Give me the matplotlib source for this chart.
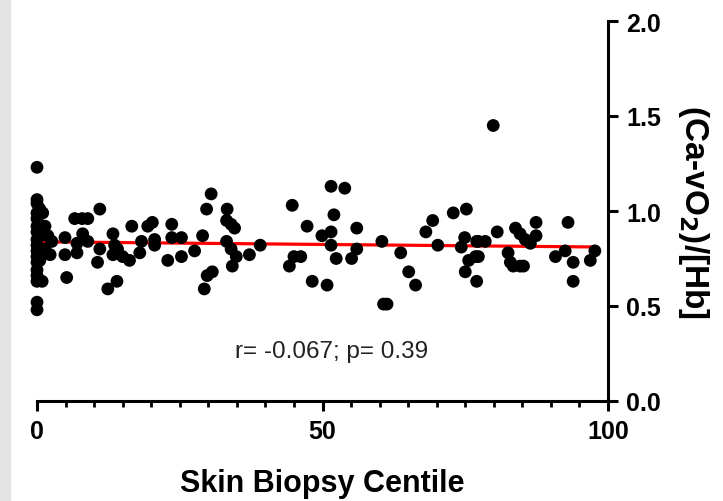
import matplotlib

matplotlib.use("Agg")
import matplotlib.pyplot as plt
import numpy as np
from matplotlib.ticker import FormatStrFormatter, MultipleLocator

# skin biopsy centile vs (Ca-vO2)/[Hb]
centile = [
    0, 0, 0, 0, 0, 0, 0, 0, 0, 0, 0, 0, 0, 0, 0, 0, 0,
    0.5, 0.9, 1.0, 0.5, 0.5, 1.4, 1.9, 2.6, 1.4, 2.3,
    4.9, 4.9, 5.2, 6.6, 7.9, 8.9, 11.0, 8.0, 7.0, 7.0, 8.9, 11.0, 10.6,
    13.3, 13.6, 13.3, 14.1, 15.0, 16.2, 16.6, 18.3, 18.0, 19.4, 20.2,
    20.6, 20.6, 12.4, 14.0, 22.9, 23.6, 23.6, 25.3, 25.3, 27.6, 29.0,
    29.7, 30.5, 29.3, 29.8, 30.7, 33.3, 33.2, 34.0, 34.6, 33.2, 34.0,
    34.9, 34.2, 37.2, 39.1, 44.7, 47.3, 44.2, 45.0, 46.2, 48.2, 50.8,
    51.5, 53.9, 52.0, 51.5, 49.9, 51.5, 52.4, 55.1, 56.0, 56.0, 60.4,
    61.3, 60.7, 63.7, 65.1, 66.3, 68.1, 69.3, 70.2, 72.9, 75.2, 74.9,
    74.3, 75.6, 76.8, 75.0, 77.0, 77.0, 79.9, 77.3, 78.5, 77.3, 80.6,
    83.8, 84.6, 85.5, 86.4, 87.4, 87.4, 82.5, 82.9, 83.4, 84.6, 85.2,
    90.8, 93.0, 92.5, 93.9, 93.9, 96.9, 97.7,
]
o2_ratio = [
    1.23, 1.06, 1.04, 0.99, 0.96, 0.92, 0.89, 0.85, 0.82, 0.79, 0.76,
    0.73, 0.69, 0.66, 0.63, 0.52, 0.48,
    1.01, 0.63, 0.99, 0.87, 0.74, 0.92, 0.87, 0.84, 0.80, 0.77,
    0.86, 0.77, 0.65, 0.96, 0.96, 0.96, 1.01, 0.88, 0.83, 0.78, 0.84, 0.80, 0.73,
    0.88, 0.82, 0.77, 0.80, 0.76, 0.74, 0.92, 0.84, 0.78, 0.92, 0.94,
    0.85, 0.82, 0.59, 0.63, 0.74, 0.93, 0.86, 0.86, 0.76, 0.79, 0.87,
    1.01, 1.09, 0.59, 0.66, 0.68, 1.01, 0.95, 0.93, 0.91, 0.84, 0.80,
    0.76, 0.71, 0.77, 0.82, 1.03, 0.92, 0.71, 0.76, 0.76, 0.63, 0.61,
    1.13, 1.12, 0.98, 0.89, 0.87, 0.82, 0.75, 0.75, 0.91, 0.80, 0.84,
    0.51, 0.51, 0.78, 0.68, 0.61, 0.89, 0.95, 0.82, 0.99, 1.01, 0.86,
    0.81, 0.74, 0.76, 0.68, 0.63, 0.84, 1.45, 0.84, 0.84, 0.76, 0.89,
    0.91, 0.88, 0.85, 0.83, 0.94, 0.87, 0.78, 0.73, 0.71, 0.71, 0.71,
    0.76, 0.94, 0.79, 0.73, 0.63, 0.74, 0.79,
]

# linear fit as drawn in the figure
fit_intercept = 0.838
fit_slope = -0.00028
fit_range = [0, 98]
stats_text = "r= -0.067; p= 0.39"

plt.rcParams["font.family"] = ["Liberation Sans", "DejaVu Sans"]

fig = plt.figure(figsize=(7.23, 5.02), dpi=100)
fig.patches.append(plt.Rectangle((0, 0), 10 / 723, 1, transform=fig.transFigure,
                                 color="#e4e4e4", zorder=0))
ax = fig.add_axes([37 / 723, 100 / 502, 571 / 723, 380 / 502])

ax.scatter(centile, o2_ratio, s=85, color="black", edgecolors="none", clip_on=False, zorder=3)
fx = np.array(fit_range, dtype=float)
ax.plot(fx, fit_intercept + fit_slope * fx, color="#ff0000", linewidth=2.3, zorder=2)
ax.text(51.5, 0.263, stats_text, ha="center", va="center", fontsize=17.5, color="#222222")

ax.set_xlim(0, 100)
ax.set_ylim(0, 2.0)
ax.xaxis.set_major_locator(MultipleLocator(50))
ax.xaxis.set_minor_locator(MultipleLocator(5))
ax.yaxis.set_major_locator(MultipleLocator(0.5))
ax.yaxis.set_major_formatter(FormatStrFormatter("%.1f"))
ax.yaxis.tick_right()
ax.yaxis.set_label_position("right")
ax.spines["top"].set_visible(False)
ax.spines["left"].set_visible(False)
for side in ("bottom", "right"):
    ax.spines[side].set_linewidth(2.2)

ax.tick_params(axis="both", which="major", direction="out", length=7, width=2.2,
               labelsize=18, pad=6)
ax.tick_params(axis="x", which="minor", direction="out", length=4.5, width=2.0)
for lab in ax.get_xticklabels() + ax.get_yticklabels():
    lab.set_fontweight("bold")

ax.set_xlabel("Skin Biopsy Centile", fontsize=22, fontweight="bold", labelpad=18)
ax.set_ylabel("(Ca-vO$_\\mathbf{2}$)/[Hb]", fontsize=24, fontweight="bold",
              rotation=270, labelpad=36)

fig.savefig("out.png", dpi=100)
